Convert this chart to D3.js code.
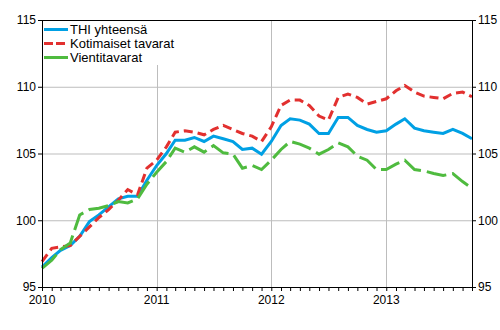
<!DOCTYPE html>
<html>
<head>
<meta charset="utf-8">
<script src="https://cdn.jsdelivr.net/npm/d3@7"></script>
<style>
  body { margin: 0; background: #fff; }
  text { font-family: "Liberation Sans", Arial, sans-serif; font-size: 12px; fill: #000; }
</style>
</head>
<body>
<div id="chart"></div>
<script>
// months Jan 2010 .. Oct 2013
let months = d3.timeMonth.range(new Date(2010, 0, 1), new Date(2013, 10, 1));

let thi = [96.5, 97.2, 97.75, 98.1, 98.8, 99.9, 100.4, 101.0, 101.6, 101.8, 101.8, 103.0,
           104.1, 105.0, 106.0, 106.0, 106.2, 105.9, 106.3, 106.1, 105.9, 105.3, 105.4, 104.95,
           105.9, 107.1, 107.6, 107.5, 107.2, 106.5, 106.5, 107.7, 107.7, 107.1, 106.8, 106.6,
           106.7, 107.2, 107.6, 106.9, 106.7, 106.6, 106.5, 106.8, 106.5, 106.1];
let kotimaiset = [96.9, 97.9, 98.0, 98.1, 98.8, 99.5, 100.2, 100.8, 101.5, 102.3, 101.9, 103.9,
           104.5, 105.5, 106.6, 106.7, 106.6, 106.4, 106.8, 107.1, 106.8, 106.5, 106.3, 105.9,
           107.0, 108.6, 109.0, 109.0, 108.6, 107.8, 107.5, 109.2, 109.45, 109.2, 108.7, 108.9,
           109.1, 109.7, 110.1, 109.6, 109.3, 109.2, 109.1, 109.5, 109.6, 109.25];
let vienti = [96.4, 97.0, 97.8, 98.3, 100.4, 100.8, 100.9, 101.1, 101.4, 101.3, 101.6, 102.7,
           103.6, 104.4, 105.4, 105.1, 105.5, 105.1, 105.6, 105.05, 104.95, 103.9, 104.1, 103.8,
           104.5, 105.3, 105.9, 105.7, 105.4, 104.95, 105.3, 105.8, 105.5, 104.8, 104.5, 103.8,
           103.8, 104.2, 104.5, 103.8, 103.7, 103.5, 103.35, 103.5, 102.9, 102.4];

let yTicks = [95, 100, 105, 110, 115];
let yearTicks = [2010, 2011, 2012, 2013];

let series = [
    {name: "THI yhteensä", values: thi, color: "#00a0e4", dash: null, legendDash: null},
    {name: "Kotimaiset tavarat", values: kotimaiset, color: "#e2302f", dash: "9,5", legendDash: "9,3"},
    {name: "Vientitavarat", values: vienti, color: "#4fbb3f", dash: "20,6", legendDash: null}
];

let m = {top: 20, right: 28, bottom: 43, left: 42};
let w = 500 - m.left - m.right;
let h = 330 - m.top - m.bottom;

let svg = d3.select("#chart")
    .append("svg")
    .attr("width", 500)
    .attr("height", 330)
    .append("g")
    .attr("transform", "translate(" + m.left + "," + m.top + ")");

let x = d3.scaleTime()
    .domain([new Date(2010, 0, 1), new Date(2013, 9, 1)])
    .range([0, w]);

let y = d3.scaleLinear()
    .domain([95, 115])
    .range([h, 0]);

// grid
svg.append("g")
    .selectAll("line")
    .data([100, 105, 110])
    .enter()
    .append("line")
    .attr("x1", 0).attr("x2", w)
    .attr("y1", d => y(d) + 0.5).attr("y2", d => y(d) + 0.5)
    .attr("stroke", "#bdbdbd");

svg.append("g")
    .selectAll("line")
    .data(yearTicks.slice(1))
    .enter()
    .append("line")
    .attr("x1", d => Math.round(x(new Date(d, 0, 1))) + 0.5)
    .attr("x2", d => Math.round(x(new Date(d, 0, 1))) + 0.5)
    .attr("y1", 0).attr("y2", h)
    .attr("stroke", "#bdbdbd");

// legend background hides grid behind it
svg.append("rect")
    .attr("x", 1).attr("y", 1)
    .attr("width", 135).attr("height", 44)
    .attr("fill", "#fff");

// lines
let line = d3.line()
    .x((d, i) => x(months[i]))
    .y(d => y(d));

svg.selectAll(".series")
    .data(series)
    .enter()
    .append("path")
    .attr("class", "series")
    .attr("d", d => line(d.values))
    .attr("fill", "none")
    .attr("stroke", d => d.color)
    .attr("stroke-width", 3)
    .attr("stroke-dasharray", d => d.dash);

// axes
svg.append("g")
    .attr("transform", "translate(0," + h + ")")
    .call(d3.axisBottom(x).ticks(d3.timeMonth.every(1)).tickSize(4).tickFormat(""))
    .call(g => g.select(".domain").remove());

svg.append("g")
    .attr("transform", "translate(0," + h + ")")
    .selectAll("text")
    .data(yearTicks)
    .enter()
    .append("text")
    .attr("x", d => x(new Date(d, 0, 1)))
    .attr("y", 17)
    .attr("text-anchor", "middle")
    .text(d => d);

svg.append("g")
    .call(d3.axisLeft(y).tickValues(yTicks).tickSize(4).tickPadding(2))
    .call(g => g.selectAll("text").style("font-size", "12px").style("font-family", "Liberation Sans, Arial, sans-serif"));

svg.append("g")
    .attr("transform", "translate(" + w + ",0)")
    .call(d3.axisRight(y).tickValues(yTicks).tickSize(4).tickPadding(2))
    .call(g => g.selectAll("text").style("font-size", "12px").style("font-family", "Liberation Sans, Arial, sans-serif"));

svg.selectAll(".domain").attr("stroke", "#000");

// frame top and bottom
svg.append("line")
    .attr("x1", 0).attr("x2", w)
    .attr("y1", 0.5).attr("y2", 0.5)
    .attr("stroke", "#000");
svg.append("line")
    .attr("x1", 0).attr("x2", w)
    .attr("y1", h + 0.5).attr("y2", h + 0.5)
    .attr("stroke", "#000");

// legend
let lg = svg.append("g")
    .selectAll("g")
    .data(series)
    .enter()
    .append("g")
    .attr("transform", (d, i) => "translate(2," + (9.5 + i * 14) + ")");

lg.append("line")
    .attr("x1", 0).attr("x2", 24)
    .attr("stroke", d => d.color)
    .attr("stroke-width", 3)
    .attr("stroke-dasharray", d => d.legendDash);

lg.append("text")
    .attr("x", 26)
    .attr("dy", "0.36em")
    .style("font-size", "13px")
    .text(d => d.name);
</script>
</body>
</html>
